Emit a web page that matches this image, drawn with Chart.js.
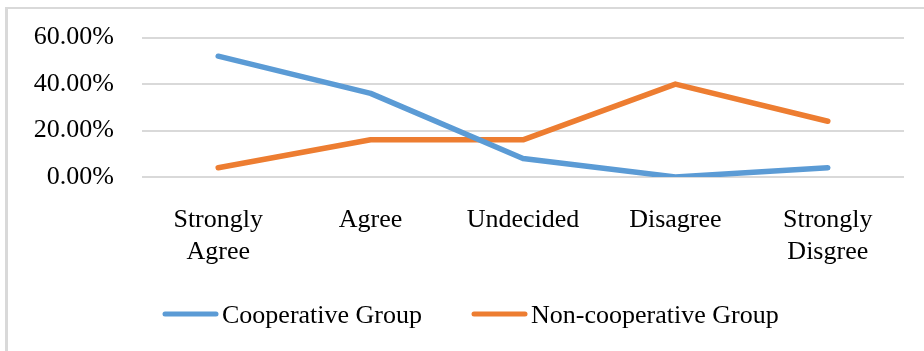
<!DOCTYPE html>
<html>
<head>
<meta charset="utf-8">
<script src="https://cdn.jsdelivr.net/npm/chart.js@4"></script>
<style>
    html, body { margin: 0; padding: 0; background: #fff; overflow: hidden; }
    #frame {
        position: absolute; left: 5px; top: 7px; width: 960px; height: 400px;
        border-left: 3px solid #d9d9d9; border-top: 2px solid #d9d9d9;
    }
    /* canvas starts a bit above the page so the plot top lands under the frame line */
    #wrap { position: absolute; left: 0; top: -6px; width: 924px; height: 357px; }
</style>
</head>
<body>
<div id="frame"></div>
<div id="wrap"><canvas id="responseChart"></canvas></div>
<script>
// Survey responses per group, in percent
const categories = [['Strongly', 'Agree'], 'Agree', 'Undecided', 'Disagree', ['Strongly', 'Disgree']];
const cooperative = [52, 36, 8, 0, 4];
const nonCooperative = [4, 16, 16, 40, 24];
const yTicks = [0, 20, 40, 60];

const FONT = '"Liberation Serif", "Times New Roman", serif';

// Legend drawn straight onto the canvas: short line swatch + label
const lineLegend = {
    id: 'lineLegend',
    afterDraw(chart) {
        const ctx = chart.ctx;
        let x = 163;
        const y = 320;
        ctx.save();
        ctx.font = '26px ' + FONT;
        ctx.textBaseline = 'middle';
        ctx.textAlign = 'left';
        chart.data.datasets.forEach(ds => {
            ctx.strokeStyle = ds.borderColor;
            ctx.lineWidth = 5;
            ctx.lineCap = 'round';
            ctx.beginPath();
            ctx.moveTo(x + 2, y);
            ctx.lineTo(x + 53, y);
            ctx.stroke();
            x += 59;
            ctx.fillStyle = '#000';
            ctx.fillText(ds.label, x, y + 2);
            x += ctx.measureText(ds.label).width + 50;
        });
        ctx.restore();
    }
};

new Chart(document.getElementById('responseChart'), {
    type: 'line',
    data: {
        labels: categories,
        datasets: [{
            label: 'Cooperative Group',
            data: cooperative,
            borderColor: '#5b9bd5',
            backgroundColor: '#5b9bd5',
            borderWidth: 5.5,
            borderCapStyle: 'round',
            borderJoinStyle: 'round',
            pointRadius: 0,
            tension: 0
        }, {
            label: 'Non-cooperative Group',
            data: nonCooperative,
            borderColor: '#ed7d31',
            backgroundColor: '#ed7d31',
            borderWidth: 5.5,
            borderCapStyle: 'round',
            borderJoinStyle: 'round',
            pointRadius: 0,
            tension: 0
        }]
    },
    options: {
        responsive: true,
        maintainAspectRatio: false,
        animation: false,
        layout: { padding: { top: 0, right: 20, bottom: 0, left: 0 } },
        plugins: {
            legend: { display: false },
            tooltip: { enabled: false }
        },
        scales: {
            x: {
                offset: true,
                grid: { display: false, drawTicks: false },
                border: { display: false },
                ticks: {
                    color: '#000',
                    padding: 28,
                    maxRotation: 0,
                    autoSkip: false,
                    font: { family: FONT, size: 26, lineHeight: 1.2 }
                },
                afterFit(scale) { scale.height = 174; }
            },
            y: {
                min: 0,
                max: 60,
                afterBuildTicks(scale) { scale.ticks = yTicks.map(v => ({ value: v })); },
                grid: { color: '#d9d9d9', lineWidth: 2, drawTicks: false },
                border: { display: false },
                ticks: {
                    color: '#000',
                    padding: 28,
                    font: { family: FONT, size: 26 },
                    callback: v => v.toFixed(2) + '%'
                },
                afterFit(scale) { scale.width = 142; }
            }
        }
    },
    plugins: [lineLegend]
});
</script>
</body>
</html>
